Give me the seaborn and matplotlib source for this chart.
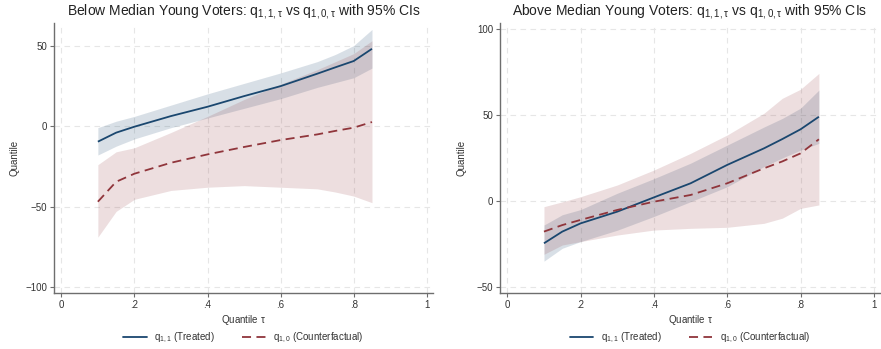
import numpy as np
import pandas as pd
import matplotlib
matplotlib.use("Agg")
import matplotlib.pyplot as plt
import seaborn as sns

# ---------------- data ----------------
tau = [0.10, 0.15, 0.20, 0.30, 0.40, 0.50, 0.60, 0.70, 0.75, 0.80, 0.85]

# Left panel: Below Median Young Voters
below_treated = [-9.7, -4.1, -0.4, 6.2, 12.0, 18.6, 24.8, 32.5, 36.5, 40.4, 48.0]
below_treated_lo = [-18.0, -12.5, -8.0, -1.0, 5.0, 11.0, 17.0, 24.0, 27.0, 30.0, 36.0]
below_treated_hi = [-1.0, 3.0, 6.0, 13.0, 20.0, 26.5, 33.0, 40.0, 44.5, 50.0, 60.0]
below_cf = [-47.0, -34.6, -29.6, -22.8, -17.6, -13.0, -8.7, -5.2, -3.0, -1.0, 2.5]
below_cf_lo = [-69.0, -53.0, -45.5, -40.0, -38.0, -37.0, -38.0, -39.0, -41.0, -43.5, -47.6]
below_cf_hi = [-24.0, -16.0, -13.5, -4.0, 6.0, 16.5, 26.0, 35.0, 40.0, 45.0, 53.0]

# Right panel: Above Median Young Voters
above_treated = [-24.6, -17.8, -13.0, -6.2, 2.1, 10.3, 21.0, 30.6, 36.0, 41.7, 49.0]
above_treated_lo = [-35.0, -27.5, -23.6, -17.0, -9.0, -0.4, 8.3, 20.0, 25.0, 29.6, 33.5]
above_treated_hi = [-14.0, -8.0, -5.0, 4.5, 13.0, 22.0, 32.5, 43.0, 48.0, 54.0, 64.5]
above_cf = [-17.8, -14.0, -11.0, -5.2, -0.4, 3.5, 10.3, 19.0, 23.0, 27.7, 35.9]
above_cf_lo = [-31.0, -25.6, -23.6, -19.8, -16.9, -15.9, -15.3, -13.0, -10.0, -4.3, -2.3]
above_cf_hi = [-3.3, -0.5, 2.5, 9.3, 18.0, 27.7, 38.4, 51.0, 59.7, 65.0, 74.2]

x_ticks = [0, 0.2, 0.4, 0.6, 0.8, 1.0]
x_ticklabels = ["0", ".2", ".4", ".6", ".8", "1"]
left_yticks = [-100, -50, 0, 50]
right_yticks = [-50, 0, 50, 100]

titles = [r"Below Median Young Voters: q$_{1,1,\tau}$ vs q$_{1,0,\tau}$ with 95% CIs",
          r"Above Median Young Voters: q$_{1,1,\tau}$ vs q$_{1,0,\tau}$ with 95% CIs"]
legend_labels = [r"q$_{1,1}$ (Treated)", r"q$_{1,0}$ (Counterfactual)"]

# ---------------- style ----------------
sns.set_theme(style="white")
plt.rcParams["font.family"] = ["Liberation Sans", "DejaVu Sans"]
plt.rcParams["mathtext.fontset"] = "custom"
plt.rcParams["mathtext.rm"] = "Liberation Sans"
plt.rcParams["mathtext.it"] = "Liberation Sans"
plt.rcParams["mathtext.default"] = "regular"

BLUE = "#1a476f"
RED = "#90353b"
GRID = "#e6e6e6"
SPINE = "#6e6e6e"

fig = plt.figure(figsize=(8.81, 3.49), dpi=100)
ax1 = fig.add_axes([0.0613, 0.1605, 0.4302, 0.7735])
ax2 = fig.add_axes([0.5675, 0.1605, 0.4315, 0.7735])

panels = [
    (ax1, below_treated, below_treated_lo, below_treated_hi,
     below_cf, below_cf_lo, below_cf_hi, left_yticks, (-103.7, 64.0), titles[0], 4),
    (ax2, above_treated, above_treated_lo, above_treated_hi,
     above_cf, above_cf_lo, above_cf_hi, right_yticks, (-53.5, 103.5), titles[1], 7),
]

for ax, tr, trl, trh, cf, cfl, cfh, yt, ylim, title, ylpad in panels:
    ax.fill_between(tau, trl, trh, color=BLUE, alpha=0.17, linewidth=0)
    ax.fill_between(tau, cfl, cfh, color=RED, alpha=0.16, linewidth=0)
    df = pd.DataFrame({"tau": tau * 2,
                       "q": list(tr) + list(cf),
                       "series": [legend_labels[0]] * len(tau) + [legend_labels[1]] * len(tau)})
    sns.lineplot(data=df, x="tau", y="q", hue="series", style="series",
                 palette=[BLUE, RED], dashes=[(1, 0), (5, 3)], linewidth=1.3,
                 ax=ax, legend=False)
    ax.set_xlim(-0.02, 1.017)
    ax.set_ylim(*ylim)
    ax.set_xticks(x_ticks)
    ax.set_xticklabels(x_ticklabels)
    ax.set_yticks(yt)
    ax.grid(True, color=GRID, linestyle=(0, (5, 4)), linewidth=0.8)
    ax.set_axisbelow(True)
    for s in ["top", "right"]:
        ax.spines[s].set_visible(False)
    for s in ["left", "bottom"]:
        ax.spines[s].set_color(SPINE)
        ax.spines[s].set_linewidth(1.0)
    ax.tick_params(axis="both", which="major", length=3, width=0.8, color=SPINE,
                   labelsize=7, labelcolor="#333333", pad=2, direction="out",
                   bottom=True, left=True)
    ax.set_xlabel(r"Quantile $\tau$", fontsize=7, color="#333333", labelpad=2)
    ax.set_ylabel("Quantile", fontsize=7, color="#333333", labelpad=ylpad)
    ax.set_title(title, fontsize=10, color="#222222", pad=6)
    handles = [plt.Line2D([], [], color=BLUE, lw=1.3),
               plt.Line2D([], [], color=RED, lw=1.3, dashes=(5, 3))]
    ax.legend(handles, legend_labels, loc="center", bbox_to_anchor=(0.5, -0.165),
              ncol=2, frameon=False, fontsize=7, handlelength=2.4, columnspacing=2.8,
              labelcolor="#333333", borderpad=0.1)

fig.savefig("out.png", dpi=100)
